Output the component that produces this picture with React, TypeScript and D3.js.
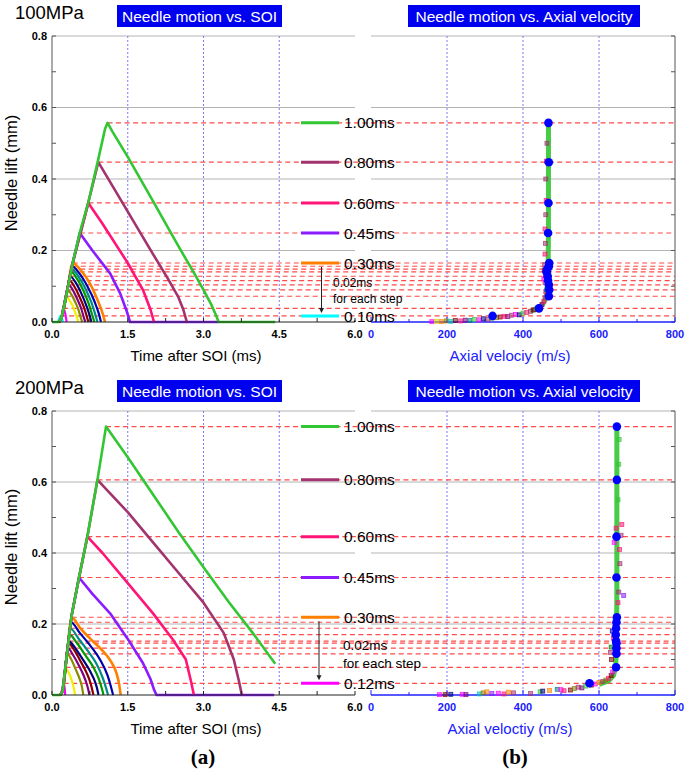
import React from "react";
import * as d3 from "d3";

type Pt = [number, number];
type Sq = [number, number, number];

const TIME_TICKS = [0, 1.5, 3.0, 4.5, 6.0];
const VEL_TICKS = [0, 200, 400, 600, 800];
const LIFT_TICKS = [0, 0.2, 0.4, 0.6, 0.8];
const LIFT_GRID = [0.2, 0.4, 0.6, 0.8];
const TIME_DOTTED = [1.5, 3.0, 4.5];
const VEL_DOTTED = [200, 400, 600];

const DURATIONS_100 = ["1.00", "0.80", "0.60", "0.45", "0.30", "0.28", "0.26", "0.24", "0.22", "0.20", "0.18", "0.16", "0.14", "0.12", "0.10"];
const DURATIONS_200 = ["1.00", "0.80", "0.60", "0.45", "0.30", "0.28", "0.26", "0.24", "0.22", "0.20", "0.18", "0.16", "0.14", "0.12"];

const LEGEND_100 = ["1.00", "0.80", "0.60", "0.45", "0.30", "0.10"];
const LEGEND_200 = ["1.00", "0.80", "0.60", "0.45", "0.30", "0.12"];

// needle lift (mm) vs time after SOI (ms), 100MPa
const LIFT_100: Pt[][] = [
  [[0, 0], [0.14, 0], [0.19, 0.012], [0.3, 0.085], [0.41, 0.165], [0.55, 0.25], [0.72, 0.335], [0.9, 0.445], [1.05, 0.54], [1.1, 0.557], [1.2, 0.532], [1.5, 0.462], [2.0, 0.338], [2.5, 0.213], [2.8, 0.14], [3.0, 0.09], [3.15, 0.05], [3.25, 0.018], [3.3, 0], [4.42, 0]],
  [[0.14, 0], [0.19, 0.012], [0.41, 0.165], [0.72, 0.335], [0.917, 0.447], [1.2, 0.38], [1.6, 0.285], [2.0, 0.19], [2.3, 0.12], [2.5, 0.07], [2.6, 0.035], [2.67, 0]],
  [[0.14, 0], [0.19, 0.012], [0.41, 0.165], [0.72, 0.333], [1.0, 0.275], [1.5, 0.165], [1.8, 0.09], [1.95, 0.035], [2.02, 0]],
  [[0.14, 0], [0.19, 0.012], [0.41, 0.165], [0.55, 0.249], [0.8, 0.2], [1.15, 0.136], [1.35, 0.08], [1.48, 0.03], [1.545, 0], [3.3, 0]],
  [[0.14, 0], [0.19, 0.012], [0.3, 0.085], [0.41, 0.165], [0.55, 0.148], [0.75, 0.108], [0.9, 0.062], [1.0, 0.025], [1.05, 0]],
  [[0.14, 0], [0.19, 0.012], [0.3, 0.085], [0.4, 0.156], [0.53, 0.138], [0.7, 0.1], [0.84, 0.058], [0.93, 0.022], [0.97, 0]],
  [[0.14, 0], [0.19, 0.012], [0.3, 0.085], [0.39, 0.148], [0.51, 0.13], [0.66, 0.094], [0.78, 0.055], [0.86, 0.02], [0.9, 0]],
  [[0.14, 0], [0.19, 0.012], [0.3, 0.085], [0.38, 0.14], [0.49, 0.122], [0.62, 0.088], [0.73, 0.05], [0.8, 0.018], [0.84, 0]],
  [[0.14, 0], [0.19, 0.012], [0.3, 0.085], [0.36, 0.128], [0.46, 0.112], [0.58, 0.08], [0.68, 0.046], [0.75, 0.016], [0.78, 0]],
  [[0.14, 0], [0.19, 0.012], [0.3, 0.085], [0.35, 0.116], [0.44, 0.1], [0.54, 0.072], [0.63, 0.042], [0.69, 0.015], [0.72, 0]],
  [[0.14, 0], [0.19, 0.012], [0.27, 0.07], [0.33, 0.104], [0.41, 0.09], [0.5, 0.064], [0.58, 0.037], [0.63, 0.013], [0.66, 0]],
  [[0.14, 0], [0.19, 0.012], [0.26, 0.062], [0.31, 0.09], [0.38, 0.078], [0.46, 0.056], [0.53, 0.032], [0.57, 0.012], [0.6, 0]],
  [[0.14, 0], [0.19, 0.012], [0.28, 0.072], [0.34, 0.062], [0.41, 0.045], [0.46, 0.026], [0.5, 0.01], [0.52, 0]],
  [[0.15, 0], [0.19, 0.012], [0.22, 0.038], [0.26, 0.025], [0.29, 0]],
  [[0.12, 0], [0.17, 0.017], [0.2, 0.01], [0.22, 0]],
];

// needle lift (mm) vs time after SOI (ms), 200MPa
const LIFT_200: Pt[][] = [
  [[0, 0], [0.16, 0], [0.21, 0.01], [0.3, 0.12], [0.39, 0.225], [0.535, 0.331], [0.7, 0.446], [0.9, 0.606], [1.07, 0.756], [1.15, 0.74], [1.5, 0.67], [2.0, 0.565], [2.5, 0.46], [3.0, 0.36], [3.5, 0.262], [4.0, 0.17], [4.42, 0.088]],
  [[0.16, 0], [0.21, 0.01], [0.3, 0.12], [0.39, 0.225], [0.535, 0.331], [0.7, 0.446], [0.9, 0.606], [1.5, 0.515], [2.0, 0.43], [2.5, 0.345], [3.0, 0.26], [3.4, 0.175], [3.6, 0.1], [3.7, 0.04], [3.76, 0]],
  [[0.16, 0], [0.21, 0.01], [0.3, 0.12], [0.39, 0.225], [0.535, 0.331], [0.7, 0.446], [1.0, 0.4], [1.5, 0.315], [2.0, 0.23], [2.4, 0.155], [2.65, 0.1], [2.75, 0.04], [2.81, 0]],
  [[0.16, 0], [0.21, 0.01], [0.3, 0.12], [0.39, 0.225], [0.535, 0.331], [0.8, 0.285], [1.15, 0.23], [1.5, 0.158], [1.8, 0.09], [1.95, 0.045], [2.02, 0.015], [2.07, 0], [4.4, 0]],
  [[0.16, 0], [0.21, 0.01], [0.3, 0.12], [0.39, 0.219], [0.55, 0.19], [0.82, 0.15], [1.0, 0.125], [1.15, 0.098], [1.28, 0.06], [1.33, 0.03], [1.36, 0]],
  [[0.16, 0], [0.21, 0.01], [0.3, 0.12], [0.375, 0.205], [0.55, 0.175], [0.78, 0.135], [0.95, 0.1], [1.1, 0.055], [1.17, 0.022], [1.21, 0]],
  [[0.16, 0], [0.21, 0.01], [0.3, 0.12], [0.36, 0.188], [0.52, 0.16], [0.72, 0.122], [0.88, 0.088], [1.0, 0.05], [1.07, 0.02], [1.11, 0]],
  [[0.16, 0], [0.21, 0.01], [0.3, 0.12], [0.345, 0.17], [0.5, 0.145], [0.67, 0.11], [0.82, 0.078], [0.93, 0.044], [0.99, 0.017], [1.02, 0]],
  [[0.16, 0], [0.21, 0.01], [0.28, 0.1], [0.33, 0.152], [0.47, 0.13], [0.62, 0.098], [0.75, 0.068], [0.85, 0.038], [0.9, 0.014], [0.92, 0]],
  [[0.16, 0], [0.21, 0.01], [0.28, 0.1], [0.324, 0.146], [0.45, 0.124], [0.57, 0.094], [0.68, 0.064], [0.76, 0.035], [0.8, 0.013], [0.82, 0]],
  [[0.16, 0], [0.21, 0.01], [0.27, 0.085], [0.313, 0.132], [0.42, 0.112], [0.53, 0.084], [0.62, 0.057], [0.69, 0.03], [0.725, 0.011], [0.74, 0]],
  [[0.16, 0], [0.21, 0.01], [0.26, 0.07], [0.3, 0.116], [0.39, 0.098], [0.47, 0.072], [0.54, 0.048], [0.59, 0.025], [0.61, 0.009], [0.62, 0]],
  [[0.16, 0], [0.21, 0.01], [0.267, 0.078], [0.32, 0.066], [0.37, 0.05], [0.41, 0.032], [0.44, 0.014], [0.455, 0]],
  [[0.16, 0], [0.2, 0.015], [0.23, 0.033], [0.25, 0.02], [0.26, 0]],
];

// axial velocity (m/s) of blue markers, one per duration (lift = peak lift)
const DOT_VEL_100 = [467, 468, 467, 466, 469, 468, 464, 462, 465, 466, 468, 469, 468, 442, 320];
const DOT_VEL_200 = [647, 647, 646, 646, 647, 646, 645, 644, 645, 646, 646, 646, 645, 575];

// 1.00ms trace in the velocity panel [v, lift]
const GREEN_VEL_100: Pt[] = [[420, 0.03], [440, 0.038], [452, 0.05], [460, 0.065], [464, 0.09], [466, 0.15], [467, 0.25], [467, 0.35], [467, 0.45], [467, 0.557]];
const GREEN_VEL_200: Pt[] = [[600, 0.03], [625, 0.04], [638, 0.055], [644, 0.08], [646, 0.15], [647, 0.3], [647, 0.5], [647, 0.756]];

// other velocity samples [v, lift, series]
const SQUARES_100: Sq[] = [
  [160, 0.001, 0], [172, 0.002, 1], [185, 0.001, 9], [198, 0.003, 2], [210, 0.002, 13], [222, 0.004, 3], [236, 0.003, 10], [248, 0.005, 4],
  [260, 0.004, 7], [272, 0.007, 14], [284, 0.006, 0], [296, 0.009, 5], [308, 0.008, 11], [318, 0.011, 6], [330, 0.012, 2], [340, 0.014, 3],
  [350, 0.016, 10], [360, 0.015, 4], [370, 0.019, 11], [380, 0.021, 0], [390, 0.02, 5], [400, 0.025, 14], [410, 0.027, 10], [420, 0.03, 11],
  [428, 0.034, 3], [436, 0.038, 14], [444, 0.043, 11], [450, 0.049, 4], [455, 0.058, 10], [458, 0.068, 11], [460, 0.085, 10], [458, 0.11, 11],
  [459, 0.13, 10], [457, 0.16, 11], [458, 0.19, 10], [459, 0.22, 11], [458, 0.26, 10], [460, 0.3, 11], [461, 0.34, 10], [460, 0.4, 11],
  [462, 0.45, 10], [463, 0.5, 11], [455, 0.12, 0], [456, 0.145, 3], [462, 0.09, 7], [463, 0.075, 9],
];
const SQUARES_200: Sq[] = [
  [180, 0.001, 0], [195, 0.001, 3], [210, 0.002, 5], [240, 0.002, 0], [250, 0.001, 4], [285, 0.003, 13], [295, 0.006, 2], [305, 0.009, 9],
  [318, 0.004, 12], [335, 0.005, 0], [350, 0.003, 10], [362, 0.008, 9], [375, 0.006, 11], [420, 0.004, 11], [445, 0.009, 14], [452, 0.011, 5],
  [470, 0.013, 9], [490, 0.016, 7], [500, 0.015, 0], [508, 0.012, 10], [525, 0.014, 3], [535, 0.018, 2], [545, 0.022, 11], [555, 0.02, 4],
  [565, 0.025, 14], [580, 0.028, 3], [590, 0.031, 0], [600, 0.035, 9], [610, 0.038, 11], [618, 0.042, 2], [625, 0.047, 10], [632, 0.055, 3],
  [636, 0.065, 0], [633, 0.1, 3], [630, 0.12, 11], [632, 0.135, 6], [638, 0.16, 10], [635, 0.18, 8], [642, 0.2, 11], [650, 0.26, 10],
  [652, 0.29, 11], [665, 0.28, 12], [648, 0.33, 10], [655, 0.37, 11], [654, 0.41, 10], [640, 0.43, 0], [658, 0.45, 11], [660, 0.48, 10],
  [645, 0.47, 10], [650, 0.55, 14], [652, 0.65, 14], [653, 0.72, 14],
];

const DUR_COLOR: Record<string, string> = {
  "1.00": "#33c633", "0.80": "#a3336e", "0.60": "#ff1477", "0.45": "#8a1cff", "0.30": "#ff8000",
  "0.28": "#0000b0", "0.26": "#008b8b", "0.24": "#009900", "0.22": "#000080", "0.20": "#8b0000",
  "0.18": "#800080", "0.16": "#8b8b00", "0.14": "#f0f000", "0.12": "#ff00ff", "0.10": "#00ffff",
};
const SQ_COLORS = ["#ff00ff", "#d8d800", "#808000", "#800000", "#800080", "#000080", "#008000", "#008080", "#0000a0", "#ff8000", "#ff1477", "#a3336e", "#8a1cff", "#00c0c0", "#33c633"];

const FONT = "'Liberation Sans', Arial, sans-serif";
const BLUE = "#2020ff";

type PanelProps = {
  top: number; bottom: number; pressure: string; velLabel: string;
  durations: string[]; lifts: Pt[][]; legend: string[];
  dotVel: number[]; green: Pt[]; squares: Sq[];
  arrowX: number; noteX: number; noteDy: [number, number]; noteSize: number;
};

function Panel(p: PanelProps) {
  const x = d3.scaleLinear().domain([0, 6]).range([52, 355]);
  const xv = d3.scaleLinear().domain([0, 800]).range([371, 675]);
  const y = d3.scaleLinear().domain([0, 0.8]).range([p.bottom, p.top]);
  const lineLin = d3.line<Pt>().x(d => x(d[0])).y(d => y(d[1]));
  const lineMono = d3.line<Pt>().x(d => x(d[0])).y(d => y(d[1])).curve(d3.curveMonotoneX);
  const vLine = d3.line<Pt>().x(d => xv(d[0])).y(d => y(d[1]));
  const peaks = p.lifts.map(c => d3.greatest(c, d => d[1]) as Pt);
  const peakOf = (dur: string) => peaks[p.durations.indexOf(dur)];
  const minor = d3.range(0, 0.81, 0.1);
  const order = d3.range(p.durations.length).reverse();
  const y30 = y(peakOf("0.30")[1]);
  const yLast = y(peakOf(p.legend[p.legend.length - 1])[1]);

  return (
    <g fontFamily={FONT}>
      {/* titles */}
      <text x={15} y={p.top - 17} fontSize={18.5}>{p.pressure}</text>
      <rect x={117} y={p.top - 31} width={165} height={22} fill="#0000f0" />
      <text x={199.5} y={p.top - 14.5} fontSize={15.5} fill="#fff" textAnchor="middle">Needle motion vs. SOI</text>
      <rect x={408} y={p.top - 31} width={232} height={22} fill="#0000f0" />
      <text x={524} y={p.top - 14.5} fontSize={15.5} fill="#fff" textAnchor="middle">Needle motion vs. Axial velocity</text>

      {/* grid */}
      {LIFT_GRID.map(v => (
        <g key={v}>
          <line x1={52} x2={355} y1={y(v)} y2={y(v)} stroke="#b4b4b4" />
          <line x1={371} x2={675} y1={y(v)} y2={y(v)} stroke="#b4b4b4" />
        </g>
      ))}
      {TIME_DOTTED.map(t => (
        <line key={t} x1={x(t)} x2={x(t)} y1={y(0.8)} y2={y(0)} stroke="#7878ff" strokeDasharray="2,2" />
      ))}
      {VEL_DOTTED.map(v => (
        <line key={v} x1={xv(v)} x2={xv(v)} y1={y(0.8)} y2={y(0)} stroke="#7878ff" strokeDasharray="2,2" />
      ))}

      {/* peak dashed lines */}
      {peaks.map((pk, i) => (
        <line key={i} x1={x(pk[0])} x2={675} y1={y(pk[1])} y2={y(pk[1])} stroke="#ff4a4a" strokeWidth={1.2} strokeDasharray="5,3.5" />
      ))}

      {/* axes: left panel */}
      <line x1={52} x2={52} y1={y(0.8)} y2={y(0)} stroke="#555" />
      {minor.map(v => <line key={v} x1={52} x2={56} y1={y(v)} y2={y(v)} stroke="#555" />)}
      {LIFT_TICKS.map(v => (
        <text key={v} x={47} y={y(v)} dy="0.35em" fontSize={11} fontWeight="bold" textAnchor="end">{v.toFixed(1)}</text>
      ))}
      {/* axes: right panel */}
      <line x1={675} x2={675} y1={y(0.8)} y2={y(0)} stroke="#555" />
      {minor.map(v => <line key={v} x1={671} x2={675} y1={y(v)} y2={y(v)} stroke="#555" />)}

      {/* needle lift curves */}
      {order.map(i => (
        <path key={p.durations[i]} d={(i < 4 ? lineLin : lineMono)(p.lifts[i]) || ""} fill="none"
          stroke={DUR_COLOR[p.durations[i]]} strokeWidth={i < 5 ? 2.6 : 2.2} strokeLinejoin="round" />
      ))}

      {/* bottom axes */}
      <line x1={52} x2={355} y1={y(0)} y2={y(0)} stroke="#222" />
      {d3.range(0, 6.01, 0.75).map(t => (
        <line key={t} x1={x(t)} x2={x(t)} y1={y(0)} y2={y(0) - 4} stroke="#222" />
      ))}
      {TIME_TICKS.map(t => (
        <text key={t} x={x(t)} y={p.bottom + 16} fontSize={11} fontWeight="bold" textAnchor="middle">{t.toFixed(1)}</text>
      ))}
      <line x1={371} x2={675} y1={y(0)} y2={y(0)} stroke={BLUE} strokeWidth={1.3} />
      {d3.range(0, 801, 100).map(v => (
        <line key={v} x1={xv(v)} x2={xv(v)} y1={y(0)} y2={y(0) - (v % 200 === 0 ? 5 : 3)} stroke={BLUE} />
      ))}
      {VEL_TICKS.map(v => (
        <text key={v} x={xv(v)} y={p.bottom + 16} fontSize={11} fontWeight="bold" textAnchor="middle" fill={BLUE}>{v}</text>
      ))}
      <text x={196} y={p.bottom + 39} fontSize={15} textAnchor="middle">Time after SOI (ms)</text>
      <text x={510} y={p.bottom + 39} fontSize={15} textAnchor="middle" fill={BLUE}>{p.velLabel}</text>
      <text transform={`translate(17,${(p.top + p.bottom) / 2 - 6}) rotate(-90)`} fontSize={16.5} textAnchor="middle">Needle lift (mm)</text>

      {/* legend */}
      {p.legend.map(dur => {
        const yy = y(peakOf(dur)[1]);
        return (
          <g key={dur}>
            <line x1={301} x2={339} y1={yy} y2={yy} stroke={DUR_COLOR[dur]} strokeWidth={3} />
            <text x={344} y={yy} dy="0.36em" fontSize={15.5}>{dur}ms</text>
          </g>
        );
      })}
      <line x1={p.arrowX} x2={p.arrowX} y1={y30 + 4} y2={yLast - 6} stroke="#222" />
      <path d={`M${p.arrowX - 2.5},${yLast - 8}L${p.arrowX + 2.5},${yLast - 8}L${p.arrowX},${yLast - 3}Z`} fill="#222" />
      <text x={p.noteX} y={y30 + p.noteDy[0]} dy="0.35em" fontSize={p.noteSize}>0.02ms</text>
      <text x={p.noteX} y={y30 + p.noteDy[1]} dy="0.35em" fontSize={p.noteSize}>for each step</text>

      {/* velocity panel */}
      <path d={vLine(p.green) || ""} fill="none" stroke="#33c633" strokeWidth={5} strokeOpacity={0.9} />
      {p.squares.map((s, i) => (
        <rect key={i} x={xv(s[0]) - 2} y={y(s[1]) - 2} width={4} height={4}
          fill={SQ_COLORS[s[2]]} fillOpacity={0.55} stroke={SQ_COLORS[s[2]]} strokeOpacity={0.8} strokeWidth={0.8} />
      ))}
      {p.dotVel.map((v, i) => (
        <circle key={i} cx={xv(v)} cy={y(peaks[i][1])} r={4.3} fill="#0000ff" />
      ))}
    </g>
  );
}

export default function App() {
  return (
    <svg width={685} height={771} style={{ position: "absolute", left: 0, top: 0, background: "#fff" }}>
      <Panel top={36} bottom={322} pressure="100MPa" velLabel="Axial velociy (m/s)"
        durations={DURATIONS_100} lifts={LIFT_100} legend={LEGEND_100}
        dotVel={DOT_VEL_100} green={GREEN_VEL_100} squares={SQUARES_100}
        arrowX={321.5} noteX={333} noteDy={[20, 36]} noteSize={12} />
      <Panel top={411} bottom={695} pressure="200MPa" velLabel="Axial veloctiy (m/s)"
        durations={DURATIONS_200} lifts={LIFT_200} legend={LEGEND_200}
        dotVel={DOT_VEL_200} green={GREEN_VEL_200} squares={SQUARES_200}
        arrowX={319} noteX={343} noteDy={[28, 46]} noteSize={13.5} />
      <text x={203} y={764} fontSize={21} fontWeight="bold" fontFamily="'Liberation Serif', 'Times New Roman', serif" textAnchor="middle">(a)</text>
      <text x={515} y={764} fontSize={21} fontWeight="bold" fontFamily="'Liberation Serif', 'Times New Roman', serif" textAnchor="middle">(b)</text>
    </svg>
  );
}
